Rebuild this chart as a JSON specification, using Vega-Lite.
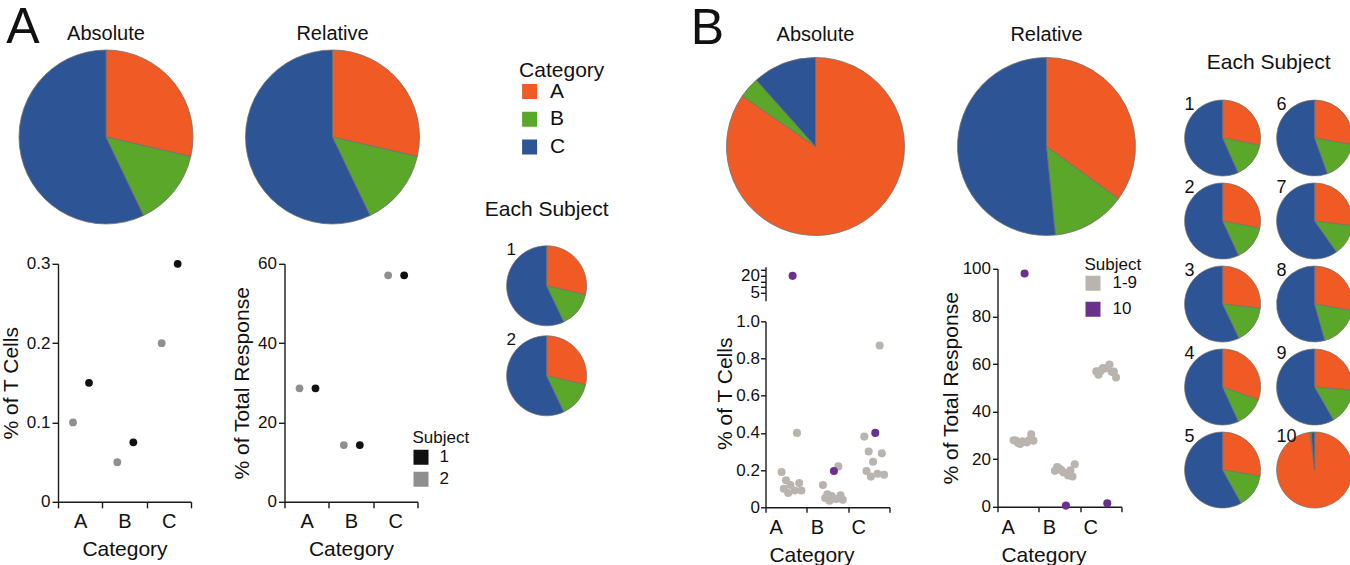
{
  "$schema": "https://vega.github.io/schema/vega-lite/v6.json",
  "padding": {"top": 2, "left": 0, "right": 0, "bottom": 0},
  "background": "white",
  "datasets": {
    "pies": [
      {"panel": "A", "kind": "Absolute", "category": "A", "pct": 28.6},
      {"panel": "A", "kind": "Absolute", "category": "B", "pct": 14.3},
      {"panel": "A", "kind": "Absolute", "category": "C", "pct": 57.1},
      {"panel": "A", "kind": "Relative", "category": "A", "pct": 28.6},
      {"panel": "A", "kind": "Relative", "category": "B", "pct": 14.3},
      {"panel": "A", "kind": "Relative", "category": "C", "pct": 57.1},
      {"panel": "B", "kind": "Absolute", "category": "A", "pct": 84.6},
      {"panel": "B", "kind": "Absolute", "category": "B", "pct": 3.8},
      {"panel": "B", "kind": "Absolute", "category": "C", "pct": 11.6},
      {"panel": "B", "kind": "Relative", "category": "A", "pct": 35.0},
      {"panel": "B", "kind": "Relative", "category": "B", "pct": 13.4},
      {"panel": "B", "kind": "Relative", "category": "C", "pct": 51.6}
    ],
    "subjA": [
      {"subject": "1", "category": "A", "abs": 0.15, "rel": 28.6},
      {"subject": "1", "category": "B", "abs": 0.075, "rel": 14.3},
      {"subject": "1", "category": "C", "abs": 0.3, "rel": 57.1},
      {"subject": "2", "category": "A", "abs": 0.1, "rel": 28.6},
      {"subject": "2", "category": "B", "abs": 0.05, "rel": 14.3},
      {"subject": "2", "category": "C", "abs": 0.2, "rel": 57.1}
    ],
    "subjB": [
      {"subject": "1", "grp": "1-9", "category": "A", "abs": 0.40, "rel": 28.0},
      {"subject": "1", "grp": "1-9", "category": "B", "abs": 0.22, "rel": 15.3},
      {"subject": "1", "grp": "1-9", "category": "C", "abs": 0.87, "rel": 56.7},
      {"subject": "2", "grp": "1-9", "category": "A", "abs": 0.19, "rel": 28.0},
      {"subject": "2", "grp": "1-9", "category": "B", "abs": 0.12, "rel": 15.1},
      {"subject": "2", "grp": "1-9", "category": "C", "abs": 0.38, "rel": 56.9},
      {"subject": "3", "grp": "1-9", "category": "A", "abs": 0.145, "rel": 26.8},
      {"subject": "3", "grp": "1-9", "category": "B", "abs": 0.07, "rel": 16.1},
      {"subject": "3", "grp": "1-9", "category": "C", "abs": 0.30, "rel": 57.1},
      {"subject": "4", "grp": "1-9", "category": "A", "abs": 0.13, "rel": 30.5},
      {"subject": "4", "grp": "1-9", "category": "B", "abs": 0.065, "rel": 12.7},
      {"subject": "4", "grp": "1-9", "category": "C", "abs": 0.29, "rel": 56.8},
      {"subject": "5", "grp": "1-9", "category": "A", "abs": 0.12, "rel": 27.5},
      {"subject": "5", "grp": "1-9", "category": "B", "abs": 0.06, "rel": 14.4},
      {"subject": "5", "grp": "1-9", "category": "C", "abs": 0.245, "rel": 58.1},
      {"subject": "6", "grp": "1-9", "category": "A", "abs": 0.10, "rel": 27.8},
      {"subject": "6", "grp": "1-9", "category": "B", "abs": 0.05, "rel": 16.7},
      {"subject": "6", "grp": "1-9", "category": "C", "abs": 0.195, "rel": 55.5},
      {"subject": "7", "grp": "1-9", "category": "A", "abs": 0.09, "rel": 27.0},
      {"subject": "7", "grp": "1-9", "category": "B", "abs": 0.045, "rel": 13.2},
      {"subject": "7", "grp": "1-9", "category": "C", "abs": 0.18, "rel": 59.8},
      {"subject": "8", "grp": "1-9", "category": "A", "abs": 0.09, "rel": 27.8},
      {"subject": "8", "grp": "1-9", "category": "B", "abs": 0.04, "rel": 17.9},
      {"subject": "8", "grp": "1-9", "category": "C", "abs": 0.175, "rel": 54.3},
      {"subject": "9", "grp": "1-9", "category": "A", "abs": 0.077, "rel": 26.4},
      {"subject": "9", "grp": "1-9", "category": "B", "abs": 0.035, "rel": 15.3},
      {"subject": "9", "grp": "1-9", "category": "C", "abs": 0.165, "rel": 58.3},
      {"subject": "10", "grp": "10", "category": "A", "abs": 20, "rel": 98.0},
      {"subject": "10", "grp": "10", "category": "B", "abs": 0.195, "rel": 0.5},
      {"subject": "10", "grp": "10", "category": "C", "abs": 0.40, "rel": 1.5}
    ]
  },
  "spacing": 81.5,
  "resolve": {"scale": {"color": "independent", "xOffset": "independent"}, "legend": {"color": "independent"}},
  "hconcat": [
    {
      "title": {"text": "A", "fontSize": 50, "anchor": "start", "offset": -28.5, "dx": 6},
      "spacing": 14.6,
      "resolve": {"scale": {"color": "independent", "xOffset": "independent"}, "legend": {"color": "independent"}},
      "hconcat": [
        {
          "spacing": 36.5,
          "resolve": {"scale": {"color": "independent", "xOffset": "independent"}, "legend": {"color": "independent"}},
          "hconcat": [
            {
              "spacing": 28.8,
              "resolve": {"scale": {"color": "independent", "xOffset": "independent"}, "legend": {"color": "independent"}},
              "vconcat": [
                {
                  "width": 96, "height": 176,
                  "title": {"text": "Absolute", "fontSize": 20, "offset": 4},
                  "data": {"name": "pies"},
                  "transform": [{"filter": "datum.panel == 'A' && datum.kind == 'Absolute'"}],
                  "mark": {"type": "arc", "outerRadius": 87, "stroke": "#707070", "strokeWidth": 0.8},
                  "encoding": {
                    "theta": {"field": "pct", "type": "quantitative", "stack": true},
                    "color": {"field": "category", "type": "nominal", "scale": {"domain": ["A", "B", "C"], "range": ["#F05A24", "#5BA72A", "#2D5596"]}, "legend": null},
                    "order": {"field": "category", "type": "nominal", "sort": "ascending"}
                  }
                },
                {
                  "width": 133, "height": 238,
                  "data": {"name": "subjA"},
                  "mark": {"type": "circle", "size": 60, "opacity": 1},
                  "encoding": {
                    "x": {"field": "category", "type": "nominal", "scale": {"type": "band", "domain": ["A", "B", "C"], "paddingInner": 0, "paddingOuter": 0},
                          "axis": {"title": "Category", "tickBand": "extent", "tickExtra": false, "labelPadding": 3.5, "titlePadding": 7}},
                    "xOffset": {"field": "subject", "type": "nominal", "scale": {"domain": ["2", "1"], "range": [7, 39]}},
                    "y": {"field": "abs", "type": "quantitative", "scale": {"domain": [0, 0.3], "nice": false},
                          "axis": {"title": "% of T Cells", "values": [0, 0.1, 0.2, 0.3], "labelExpr": "datum.value == 0 ? '0' : format(datum.value, '.1f')"}},
                    "color": {"field": "subject", "type": "nominal", "scale": {"domain": ["1", "2"], "range": ["#111111", "#8f8f8f"]}, "legend": null}
                  }
                }
              ]
            },
            {
              "spacing": 28.8,
              "resolve": {"scale": {"color": "independent", "xOffset": "independent"}, "legend": {"color": "independent"}},
              "vconcat": [
                {
                  "width": 96, "height": 176,
                  "title": {"text": "Relative", "fontSize": 20, "offset": 4},
                  "data": {"name": "pies"},
                  "transform": [{"filter": "datum.panel == 'A' && datum.kind == 'Relative'"}],
                  "mark": {"type": "arc", "outerRadius": 87, "stroke": "#707070", "strokeWidth": 0.8},
                  "encoding": {
                    "theta": {"field": "pct", "type": "quantitative", "stack": true},
                    "color": {"field": "category", "type": "nominal", "scale": {"domain": ["A", "B", "C"], "range": ["#F05A24", "#5BA72A", "#2D5596"]}, "legend": null},
                    "order": {"field": "category", "type": "nominal", "sort": "ascending"}
                  }
                },
                {
                  "width": 133, "height": 238,
                  "data": {"name": "subjA"},
                  "mark": {"type": "circle", "size": 60, "opacity": 1},
                  "encoding": {
                    "x": {"field": "category", "type": "nominal", "scale": {"type": "band", "domain": ["A", "B", "C"], "paddingInner": 0, "paddingOuter": 0},
                          "axis": {"title": "Category", "tickBand": "extent", "tickExtra": false, "labelPadding": 3.5, "titlePadding": 7}},
                    "xOffset": {"field": "subject", "type": "nominal", "scale": {"domain": ["2", "1"], "range": [7, 39]}},
                    "y": {"field": "rel", "type": "quantitative", "scale": {"domain": [0, 60], "nice": false},
                          "axis": {"title": "% of Total Response", "values": [0, 20, 40, 60]}},
                    "color": {"field": "subject", "type": "nominal", "scale": {"domain": ["1", "2"], "range": ["#111111", "#8f8f8f"]},
                              "legend": {"title": "Subject", "orient": "none", "legendX": 128, "legendY": 166, "symbolType": "square", "symbolSize": 225, "titleFontSize": 17, "labelFontSize": 17, "titlePadding": 2, "rowPadding": 4, "labelOffset": 10, "clipHeight": 17, "symbolStrokeWidth": 0}}
                  }
                }
              ]
            }
          ]
        },
        {
          "spacing": 39.8,
          "resolve": {"scale": {"color": "independent", "xOffset": "independent"}, "legend": {"color": "independent"}},
          "vconcat": [
            {
              "width": 1, "height": 110,
              "data": {"name": "pies"},
              "transform": [{"filter": "datum.panel == 'A' && datum.kind == 'Absolute'"}],
              "mark": {"type": "arc", "outerRadius": 0, "innerRadius": 0},
              "encoding": {
                "theta": {"field": "pct", "type": "quantitative", "stack": true},
                "color": {"field": "category", "type": "nominal", "scale": {"domain": ["A", "B", "C"], "range": ["#F05A24", "#5BA72A", "#2D5596"]},
                          "legend": {"title": "Category", "orient": "none", "legendX": 12.5, "legendY": 11, "direction": "vertical", "symbolType": "square", "symbolSize": 225, "titleFontSize": 21, "labelFontSize": 21, "titlePadding": 0, "rowPadding": 5.7, "labelOffset": 10, "clipHeight": 21, "symbolStrokeWidth": 0}}
              }
            },
            {
              "data": {"name": "subjA"},
              "columns": 1,
              "spacing": 3,
              "facet": {"field": "subject", "type": "nominal",
                        "header": {"title": "Each Subject", "titleFontSize": 21, "titlePadding": 21, "labelFontSize": 17, "labelAnchor": "start", "labelPadding": -15, "labelBaseline": "top"}},
              "spec": {
                "width": 80, "height": 80,
                "mark": {"type": "arc", "outerRadius": 40, "stroke": "#707070", "strokeWidth": 0.7},
                "encoding": {
                  "theta": {"field": "rel", "type": "quantitative", "stack": true},
                  "color": {"field": "category", "type": "nominal", "scale": {"domain": ["A", "B", "C"], "range": ["#F05A24", "#5BA72A", "#2D5596"]}, "legend": null},
                  "order": {"field": "category", "type": "nominal", "sort": "ascending"}
                }
              }
            }
          ]
        }
      ]
    },
    {
      "title": {"text": "B", "fontSize": 50, "anchor": "start", "offset": -28.5, "dx": -24},
      "spacing": 41.1,
      "resolve": {"scale": {"color": "independent", "xOffset": "independent"}, "legend": {"color": "independent"}},
      "hconcat": [
        {
          "spacing": 33,
          "resolve": {"scale": {"color": "independent", "xOffset": "independent"}, "legend": {"color": "independent"}},
          "hconcat": [
            {
              "spacing": 22.8,
              "resolve": {"scale": {"color": "independent", "xOffset": "independent"}, "legend": {"color": "independent"}},
              "vconcat": [
                {
                  "width": 100, "height": 195,
                  "title": {"text": "Absolute", "fontSize": 20, "offset": 4},
                  "data": {"name": "pies"},
                  "transform": [{"filter": "datum.panel == 'B' && datum.kind == 'Absolute'"}],
                  "mark": {"type": "arc", "outerRadius": 89, "stroke": "#707070", "strokeWidth": 0.8},
                  "encoding": {
                    "theta": {"field": "pct", "type": "quantitative", "stack": true},
                    "color": {"field": "category", "type": "nominal", "scale": {"domain": ["A", "B", "C"], "range": ["#F05A24", "#5BA72A", "#2D5596"]}, "legend": null},
                    "order": {"field": "category", "type": "nominal", "sort": "ascending"}
                  }
                },
                {
                  "spacing": 20.5,
                  "bounds": "flush",
                  "resolve": {"scale": {"color": "independent", "xOffset": "independent"}, "legend": {"color": "independent"}},
                  "vconcat": [
                    {
                      "width": 124, "height": 34,
                      "data": {"name": "subjB"},
                      "transform": [{"filter": "datum.abs > 1"}],
                      "mark": {"type": "circle", "size": 65, "opacity": 1},
                      "encoding": {
                        "x": {"field": "category", "type": "nominal", "scale": {"type": "band", "domain": ["A", "B", "C"], "paddingInner": 0, "paddingOuter": -0.1, "align": 1}, "axis": null},
                        "xOffset": {"field": "subject", "type": "nominal", "scale": {"domain": ["2", "6", "3", "9", "5", "10", "7", "1", "4", "8"], "range": [15, 37]}},
                        "y": {"field": "abs", "type": "quantitative", "scale": {"domain": [-2, 28], "nice": false, "zero": false},
                              "axis": {"title": null, "values": [5, 10, 15, 20, 25], "labelExpr": "datum.value == 5 || datum.value == 20 ? datum.label : ''", "tickSize": 5, "labelPadding": 1}},
                        "color": {"field": "grp", "type": "nominal", "scale": {"domain": ["1-9", "10"], "range": ["#bab4af", "#6a308d"]}, "legend": null}
                      }
                    },
                    {
                      "width": 124, "height": 186,
                      "data": {"name": "subjB"},
                      "transform": [{"filter": "datum.abs <= 1"}],
                      "mark": {"type": "circle", "size": 65, "opacity": 1},
                      "encoding": {
                        "x": {"field": "category", "type": "nominal", "scale": {"type": "band", "domain": ["A", "B", "C"], "paddingInner": 0, "paddingOuter": -0.1, "align": 1},
                              "axis": {"title": "Category", "tickBand": "extent", "tickExtra": false, "labelOffset": -10.5, "labelPadding": 5.5, "titlePadding": 7, "titleX": 46, "tickSize": 5}},
                        "xOffset": {"field": "subject", "type": "nominal", "scale": {"domain": ["2", "6", "3", "9", "5", "10", "7", "1", "4", "8"], "range": [15, 37]}},
                        "y": {"field": "abs", "type": "quantitative", "scale": {"domain": [0, 1], "nice": false},
                              "axis": {"title": "% of T Cells", "values": [0, 0.2, 0.4, 0.6, 0.8, 1], "labelExpr": "datum.value == 0 ? '0' : format(datum.value, '.1f')", "tickSize": 5, "labelPadding": 1, "titlePadding": 0, "titleY": 72}},
                        "color": {"field": "grp", "type": "nominal", "scale": {"domain": ["1-9", "10"], "range": ["#bab4af", "#6a308d"]}, "legend": null}
                      }
                    }
                  ]
                }
              ]
            },
            {
              "spacing": 12.8,
              "resolve": {"scale": {"color": "independent", "xOffset": "independent"}, "legend": {"color": "independent"}},
              "vconcat": [
                {
                  "width": 98, "height": 195,
                  "title": {"text": "Relative", "fontSize": 20, "offset": 4},
                  "data": {"name": "pies"},
                  "transform": [{"filter": "datum.panel == 'B' && datum.kind == 'Relative'"}],
                  "mark": {"type": "arc", "outerRadius": 89, "stroke": "#707070", "strokeWidth": 0.8},
                  "encoding": {
                    "theta": {"field": "pct", "type": "quantitative", "stack": true},
                    "color": {"field": "category", "type": "nominal", "scale": {"domain": ["A", "B", "C"], "range": ["#F05A24", "#5BA72A", "#2D5596"]}, "legend": null},
                    "order": {"field": "category", "type": "nominal", "sort": "ascending"}
                  }
                },
                {
                  "width": 124, "height": 238,
                  "data": {"name": "subjB"},
                  "mark": {"type": "circle", "size": 65, "opacity": 1},
                  "encoding": {
                    "x": {"field": "category", "type": "nominal", "scale": {"type": "band", "domain": ["A", "B", "C"], "paddingInner": 0, "paddingOuter": -0.1, "align": 1},
                          "axis": {"title": "Category", "tickBand": "extent", "tickExtra": false, "labelOffset": -10.5, "labelPadding": 5.5, "titlePadding": 7, "titleX": 46, "tickSize": 5}},
                    "xOffset": {"field": "subject", "type": "nominal", "scale": {"domain": ["2", "6", "3", "9", "5", "10", "7", "1", "4", "8"], "range": [15, 37]}},
                    "y": {"field": "rel", "type": "quantitative", "scale": {"domain": [0, 100], "nice": false},
                          "axis": {"title": "% of Total Response", "values": [0, 20, 40, 60, 80, 100], "tickSize": 5, "labelPadding": 2, "titlePadding": 1}},
                    "color": {"field": "grp", "type": "nominal", "scale": {"domain": ["1-9", "10"], "range": ["#bab4af", "#6a308d"]},
                              "legend": {"title": "Subject", "orient": "none", "legendX": 87, "legendY": -12, "symbolType": "square", "symbolSize": 225, "titleFontSize": 17, "labelFontSize": 17, "titlePadding": 1, "rowPadding": 8, "labelOffset": 11, "clipHeight": 17, "symbolStrokeWidth": 0}}
                  }
                }
              ]
            }
          ]
        },
        {
          "spacing": -3,
          "resolve": {"scale": {"color": "independent", "xOffset": "independent"}, "legend": {"color": "independent"}},
          "vconcat": [
            {
              "width": 1, "height": 1,
              "data": {"values": [{"k": 1}]},
              "mark": {"type": "text", "text": ""},
              "encoding": {}
            },
            {
              "data": {"name": "subjB"},
              "columns": 2,
              "spacing": {"row": 0, "column": 12},
              "facet": {"field": "subject", "type": "nominal", "sort": ["1", "6", "2", "7", "3", "8", "4", "9", "5", "10"],
                        "header": {"title": "Each Subject", "titleFontSize": 21, "titlePadding": 22, "labelFontSize": 18, "labelAnchor": "start", "labelPadding": -15, "labelBaseline": "top"}},
              "spec": {
                "width": 76, "height": 76,
                "mark": {"type": "arc", "outerRadius": 38, "stroke": "#707070", "strokeWidth": 0.7},
                "encoding": {
                  "theta": {"field": "rel", "type": "quantitative", "stack": true},
                  "color": {"field": "category", "type": "nominal", "scale": {"domain": ["A", "B", "C"], "range": ["#F05A24", "#5BA72A", "#2D5596"]}, "legend": null},
                  "order": {"field": "category", "type": "nominal", "sort": "ascending"}
                }
              }
            }
          ]
        }
      ]
    }
  ],
  "config": {
    "font": "Liberation Sans",
    "view": {"stroke": null},
    "axis": {"grid": false, "domainColor": "#1a1a1a", "tickColor": "#1a1a1a", "labelColor": "#111111", "titleColor": "#111111", "labelFontSize": 17, "titleFontSize": 21, "titleFontWeight": "normal", "tickSize": 6, "domainWidth": 1.4, "tickWidth": 1.4, "labelPadding": 2, "titlePadding": 5},
    "axisX": {"labelFontSize": 20, "labelAngle": 0},
    "title": {"fontWeight": "normal", "color": "#111111"},
    "legend": {"titleFontWeight": "normal", "titleColor": "#111111", "labelColor": "#111111"},
    "header": {"titleFontWeight": "normal", "labelColor": "#111111", "titleColor": "#111111"}
  }
}
